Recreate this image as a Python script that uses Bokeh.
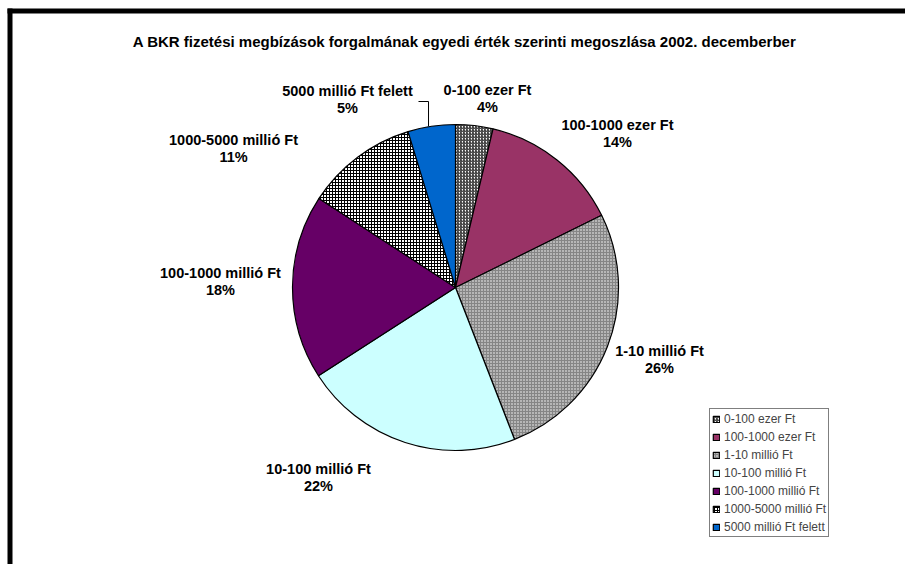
import math
from bokeh.plotting import figure
from bokeh.models import Range1d, BoxAnnotation, Legend, LegendItem
from bokeh.embed import file_html
from bokeh.resources import INLINE
from bokeh.core.properties import value

# ---- data ----
categories = ["0-100 ezer Ft", "100-1000 ezer Ft", "1-10 millió Ft", "10-100 millió Ft",
              "100-1000 millió Ft", "1000-5000 millió Ft", "5000 millió Ft felett"]
shares = [3.7, 14.0, 26.4, 21.8, 18.3, 11.1, 4.7]
chart_title = "A BKR fizetési megbízások forgalmának egyedi érték szerinti megoszlása 2002. decemberber"

# ---- styles ----
fills = ["white", "#993366", "#858585", "#CCFFFF", "#660066", "white", "#0066CC"]
hatches = ["/", " ", "dot", " ", " ", "+", " "]
hatch_colors = ["#333333", "black", "white", "black", "black", "black", "black"]
hatch_scales = [3, 4, 3, 4, 4, 3, 4]
hatch_weights = [1.2, 1, 1.0, 1, 1, 1, 1]

# layout (page pixel coordinates)
W, H = 905, 564
cx, cy, R = 455, 287, 163
# label centres (x, y of name line) in page pixels
label_pos = [(487, 89), (617, 124), (659, 350), (318, 468), (220, 272), (233, 139), (347, 90)]
FONT = "Liberation Sans"

def Y(py):
    return -py

p = figure(width=W, height=H, output_backend="svg", toolbar_location=None,
           x_range=Range1d(0, W), y_range=Range1d(-H, 0),
           x_axis_location=None, y_axis_location=None, min_border=0)
p.grid.visible = False
p.outline_line_color = None
p.background_fill_color = "white"
p.border_fill_color = "white"

total = sum(shares)
cum = 0.0
items = []
for i, (cat, v) in enumerate(zip(categories, shares)):
    a0 = math.pi / 2 - 2 * math.pi * cum / total
    a1 = math.pi / 2 - 2 * math.pi * (cum + v) / total
    r = p.wedge(x=cx, y=Y(cy), radius=R, start_angle=a0, end_angle=a1, direction="clock",
                fill_color=fills[i], line_color="black", line_width=1.2,
                hatch_pattern=hatches[i], hatch_color=hatch_colors[i],
                hatch_scale=hatch_scales[i], hatch_weight=hatch_weights[i])
    items.append(LegendItem(label=cat, renderers=[r]))
    mid = (cum + v / 2) / total
    lx, ly = label_pos[i]
    p.text(x=[lx], y=[Y(ly)], text=[cat], text_align="center", text_baseline="middle",
           text_font=value(FONT), text_font_size="14.5px", text_font_style="bold", text_color="black")
    p.text(x=[lx], y=[Y(ly + 17.5)], text=[f"{round(v)}%"], text_align="center", text_baseline="middle",
           text_font=value(FONT), text_font_size="14.5px", text_font_style="bold", text_color="black")
    if i == len(shares) - 1:
        ang = math.pi / 2 - 2 * math.pi * mid
        ex = cx + R * math.cos(ang) - 3
        ey = cy - R * math.sin(ang)
        p.line(x=[lx + 71, ex, ex], y=[Y(ly + 11), Y(ly + 11), Y(ey)], line_color="black", line_width=1)
    cum += v

# title
p.text(x=[464], y=[Y(41)], text=[chart_title], text_align="center", text_baseline="middle",
       text_font=value(FONT), text_font_size="15px", text_font_style="bold", text_color="black")

# border (top and left visible)
p.add_layout(BoxAnnotation(left=7, top=Y(8), bottom=Y(13), fill_color="black", fill_alpha=1,
                           line_color=None))
p.add_layout(BoxAnnotation(left=7, right=12, top=Y(8), fill_color="black", fill_alpha=1,
                           line_color=None))

legend = Legend(items=items, location=(709, 27), glyph_width=8, glyph_height=8,
                label_text_font=FONT, label_text_font_size="12px", label_height=15,
                spacing=3, padding=2, margin=0, label_standoff=4,
                border_line_color="black", border_line_width=1,
                background_fill_color="white", background_fill_alpha=1)
p.add_layout(legend)

open("out.html", "w").write(file_html(p, INLINE))
